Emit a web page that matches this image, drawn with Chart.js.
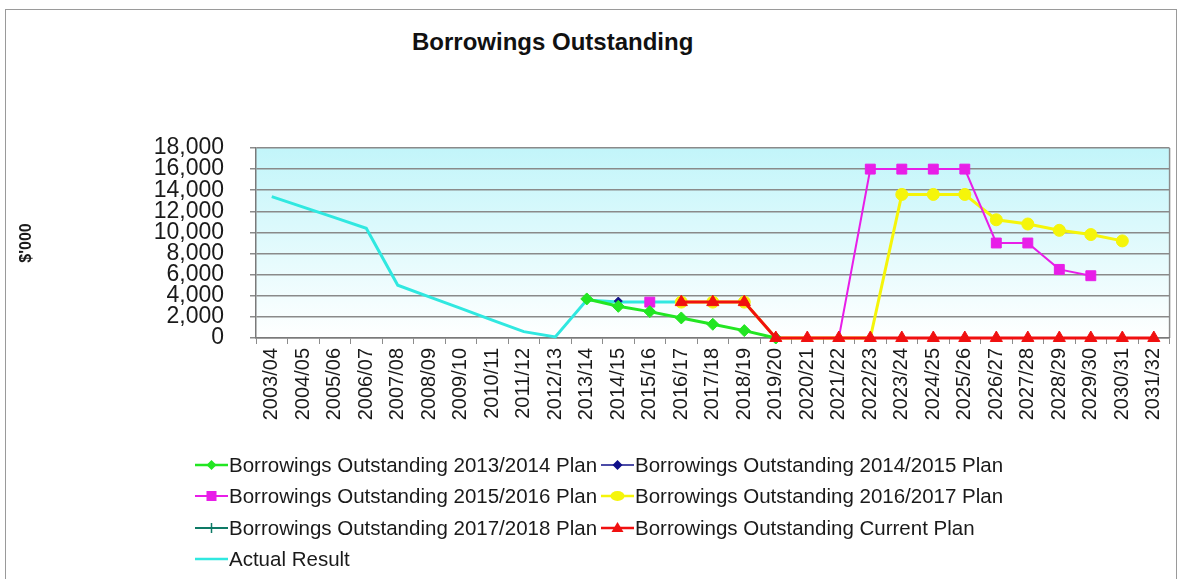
<!DOCTYPE html>
<html>
<head>
<meta charset="utf-8">
<script src="https://cdn.jsdelivr.net/npm/chart.js@4.4.0/dist/chart.umd.min.js"></script>
<style>
  html, body { margin: 0; padding: 0; background: #fff; }
  #wrap { position: relative; width: 1182px; height: 579px; overflow: hidden; font-family: 'Liberation Sans', Arial, sans-serif; }
  #frame { position: absolute; left: 5px; top: 9px; width: 1172px; height: 600px; border: 1px solid #9a9a9a; box-sizing: border-box; }
  #title { position: absolute; left: 412px; top: 30px; font-size: 24px; line-height: 24px; font-weight: bold; color: #111; white-space: nowrap; }
  #chart { position: absolute; left: 0; top: 0; }
  #legend { position: absolute; left: 195px; top: 449px; display: grid; grid-template-columns: 406px auto; }
  .item { display: flex; align-items: center; height: 31.5px; font-size: 20.5px; color: #1a1a1a; white-space: nowrap; }
  .item canvas { width: 33px; height: 20px; margin-right: 1px; }
</style>
</head>
<body>
<div id="wrap">
  <div id="frame"></div>
  <div id="title">Borrowings Outstanding</div>
  <canvas id="chart" width="1182" height="579"></canvas>
  <div id="legend"></div>
</div>
<script>
const N = null;

const years = ['2003/04', '2004/05', '2005/06', '2006/07', '2007/08', '2008/09', '2009/10', '2010/11',
    '2011/12', '2012/13', '2013/14', '2014/15', '2015/16', '2016/17', '2017/18', '2018/19', '2019/20',
    '2020/21', '2021/22', '2022/23', '2023/24', '2024/25', '2025/26', '2026/27', '2027/28', '2028/29',
    '2029/30', '2030/31', '2031/32'];

const plan1314 = [N, N, N, N, N, N, N, N, N, N, 3700, 3000, 2500, 1900, 1300, 700, 0,
    N, N, N, N, N, N, N, N, N, N, N, N];
const plan1415 = [N, N, N, N, N, N, N, N, N, N, N, 3500,
    N, N, N, N, N, N, N, N, N, N, N, N, N, N, N, N, N];
const plan1516 = [N, N, N, N, N, N, N, N, N, N, N, N, 3400, N, N, N, 0, 0, 0,
    16000, 16000, 16000, 16000, 9000, 9000, 6500, 5900, N, N];
const plan1617 = [N, N, N, N, N, N, N, N, N, N, N, N, N, 3400, 3400, 3400, 0, 0, 0, 0,
    13600, 13600, 13600, 11200, 10800, 10200, 9800, 9200, N];
const plan1718 = [N, N, N, N, N, N, N, N, N, N, N, N, N, N, 3400, 3400,
    0, 0, 0, 0, 0, 0, 0, 0, 0, 0, 0, 0, 0];
const currentPlan = [N, N, N, N, N, N, N, N, N, N, N, N, N, 3400, 3400, 3400,
    0, 0, 0, 0, 0, 0, 0, 0, 0, 0, 0, 0, 0];
const actual = [13400, 12400, 11400, 10400, 5000, 3900, 2800, 1700, 600, 100, 3600, 3400, 3400, 3400,
    N, N, N, N, N, N, N, N, N, N, N, N, N, N, N];

const yTicks = { min: 0, max: 18000, step: 2000 };

// hide markers sitting on the zero line (they are covered by the current plan)
const hideZero = r => c => (c.raw === 0 ? 0 : r);

const datasets = [
    { label: 'Borrowings Outstanding 2013/2014 Plan', data: plan1314, borderColor: '#22e622', backgroundColor: '#22e622',
      borderWidth: 3, pointStyle: 'rectRot', pointRadius: 6, order: 1 },
    { label: 'Borrowings Outstanding 2014/2015 Plan', data: plan1415, borderColor: '#10108a', backgroundColor: '#10108a',
      borderWidth: 1.5, pointStyle: 'rectRot', pointRadius: 4, order: 2 },
    { label: 'Borrowings Outstanding 2015/2016 Plan', data: plan1516, borderColor: '#e81ee8', backgroundColor: '#e81ee8',
      borderWidth: 2, pointStyle: 'rect', pointRadius: hideZero(7), order: 3 },
    { label: 'Borrowings Outstanding 2016/2017 Plan', data: plan1617, borderColor: '#f5f50a', backgroundColor: '#f5f50a',
      borderWidth: 3, pointStyle: 'circle', pointRadius: hideZero(6), order: 4 },
    { label: 'Borrowings Outstanding 2017/2018 Plan', data: plan1718, borderColor: '#0e7a66', backgroundColor: '#0e7a66',
      borderWidth: 2, pointStyle: 'cross', pointRadius: 4, order: 5 },
    { label: 'Borrowings Outstanding Current Plan', data: currentPlan, borderColor: '#f01010', backgroundColor: '#f01010',
      borderWidth: 3, pointStyle: 'triangle', pointRadius: 7, order: 0 },
    { label: 'Actual Result', data: actual, borderColor: '#30e8e0', backgroundColor: '#30e8e0',
      borderWidth: 3, pointStyle: false, pointRadius: 0, order: 6 }
];

// light cyan fade behind the plot, plus the right hand frame line
const plotBg = {
    id: 'plotBg',
    beforeDraw(chart) {
        const { ctx, chartArea: a } = chart;
        const g = ctx.createLinearGradient(0, a.top, 0, a.bottom);
        g.addColorStop(0, '#c2f5fa');
        g.addColorStop(1, '#ffffff');
        ctx.save();
        ctx.fillStyle = g;
        ctx.fillRect(a.left, a.top, a.right - a.left, a.bottom - a.top);
        ctx.strokeStyle = '#8c8c8c';
        ctx.lineWidth = 1.5;
        ctx.beginPath();
        ctx.moveTo(a.right, a.top);
        ctx.lineTo(a.right, a.bottom);
        ctx.stroke();
        ctx.restore();
    }
};

const chart = new Chart(document.getElementById('chart'), {
    type: 'line',
    data: { labels: years, datasets: datasets },
    plugins: [plotBg],
    options: {
        responsive: false,
        animation: false,
        layout: { padding: { top: 148, left: 8, right: 10, bottom: 141 } },
        datasets: { line: { tension: 0, clip: false, spanGaps: false, pointBorderWidth: 1 } },
        plugins: { legend: { display: false }, tooltip: { enabled: false }, title: { display: false } },
        scales: {
            x: {
                offset: true,
                grid: { drawOnChartArea: false, drawTicks: true, tickLength: 6, color: '#8c8c8c', offset: true },
                border: { color: '#7a7a7a', width: 1.5 },
                ticks: {
                    minRotation: 90, maxRotation: 90, autoSkip: false, padding: 4,
                    color: '#1a1a1a', font: { family: "'Liberation Sans', Arial", size: 20 }
                },
                afterFit: s => { s.height = 100; }
            },
            y: {
                min: yTicks.min, max: yTicks.max,
                grid: { color: '#8a8a8a', lineWidth: 1.5, drawTicks: true, tickLength: 6 },
                border: { color: '#7a7a7a', width: 1.5 },
                ticks: {
                    stepSize: yTicks.step, autoSkip: false, maxTicksLimit: 20, padding: 26,
                    color: '#1a1a1a', font: { family: "'Liberation Sans', Arial", size: 23, lineHeight: 1 },
                    callback: v => v.toLocaleString('en-US')
                },
                title: {
                    display: true, text: "$'000", color: '#1a1a1a', padding: { top: 9, bottom: 0 },
                    font: { family: "'Liberation Sans', Arial", size: 16, weight: 'bold' }
                },
                afterFit: s => { s.width = 248; }
            }
        }
    }
});

// legend: line with the series marker, two columns
function drawKey(cv, ds) {
    const c = cv.getContext('2d');
    const y = 10, x = 16.5;
    c.strokeStyle = ds.borderColor;
    c.fillStyle = ds.backgroundColor;
    c.lineWidth = Math.min(ds.borderWidth, 2.5);
    c.beginPath(); c.moveTo(0, y); c.lineTo(33, y); c.stroke();
    c.beginPath();
    if (ds.pointStyle === 'rectRot') {
        const r = 5; c.moveTo(x, y - r); c.lineTo(x + r, y); c.lineTo(x, y + r); c.lineTo(x - r, y); c.fill();
    } else if (ds.pointStyle === 'rect') {
        c.fillRect(x - 5, y - 5, 10, 10);
    } else if (ds.pointStyle === 'circle') {
        c.ellipse(x, y, 7, 5, 0, 0, Math.PI * 2); c.fill();
    } else if (ds.pointStyle === 'triangle') {
        c.moveTo(x, y - 6); c.lineTo(x + 6, y + 4); c.lineTo(x - 6, y + 4); c.fill();
    } else if (ds.pointStyle === 'cross') {
        c.lineWidth = 1.5; c.moveTo(x, y - 5); c.lineTo(x, y + 5); c.stroke();
    }
}

const legendEl = document.getElementById('legend');
chart.data.datasets.forEach(ds => {
    const item = document.createElement('div');
    item.className = 'item';
    const cv = document.createElement('canvas');
    cv.width = 33; cv.height = 20;
    drawKey(cv, ds);
    item.appendChild(cv);
    const span = document.createElement('span');
    span.textContent = ds.label;
    item.appendChild(span);
    legendEl.appendChild(item);
});
</script>
</body>
</html>
